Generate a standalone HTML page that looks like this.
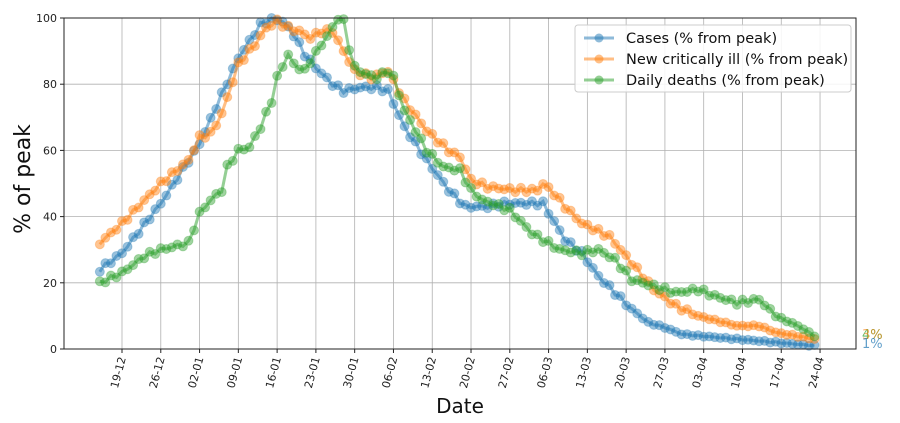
<!DOCTYPE html>
<html><head><meta charset="utf-8"><style>
body{margin:0;background:#fff;}
svg{display:block;font-family:"DejaVu Sans","Liberation Sans",sans-serif;}
</style></head><body>
<svg id="s" width="900" height="423" viewBox="0 0 900 423" xmlns="http://www.w3.org/2000/svg">
<rect width="900" height="423" fill="#fff"/>
<g id="grid" stroke="#b0b0b0" stroke-width="0.8"></g>
<g id="series"></g>
<rect x="64" y="18" width="792" height="331" fill="none" stroke="#222" stroke-width="1"/>
<g id="ticks" font-size="11" fill="#222"></g>
<text x="36" y="185" font-size="22" text-anchor="middle" transform="rotate(-90 30 185)" fill="#111">% of peak</text>
<text x="460" y="413" font-size="20" text-anchor="middle" fill="#111">Date</text>
<text x="862" y="339" font-size="13" fill="#2ca02c" opacity="0.7">4%</text>
<text x="862" y="339" font-size="13" fill="#ff7f0e" opacity="0.6">3%</text>
<text x="862" y="348" font-size="13" fill="#1f77b4" opacity="0.7">1%</text>
<g>
<rect x="575" y="25" width="276" height="67" rx="3" fill="#fff" fill-opacity="0.85" stroke="#ccc"/>
<line x1="584" y1="38" x2="614" y2="38" stroke="#1f77b4" stroke-width="3" opacity="0.5"/><circle cx="599" cy="38" r="4.5" fill="#1f77b4" opacity="0.5"/>
<line x1="584" y1="59" x2="614" y2="59" stroke="#ff7f0e" stroke-width="3" opacity="0.5"/><circle cx="599" cy="59" r="4.5" fill="#ff7f0e" opacity="0.5"/>
<line x1="584" y1="80" x2="614" y2="80" stroke="#2ca02c" stroke-width="3" opacity="0.5"/><circle cx="599" cy="80" r="4.5" fill="#2ca02c" opacity="0.5"/>
<text x="626" y="43" font-size="14.5" fill="#111">Cases (% from peak)</text>
<text x="626" y="64" font-size="14.5" fill="#111">New critically ill (% from peak)</text>
<text x="626" y="85" font-size="14.5" fill="#111">Daily deaths (% from peak)</text>
</g>
</svg>
<script>
var NS="http://www.w3.org/2000/svg";
function el(t,a,p){var e=document.createElementNS(NS,t);for(var k in a)e.setAttribute(k,a[k]);p.appendChild(e);return e;}
var X=function(d){return 122+(d-4)*5.54;}, Y=function(v){return 349-v*3.31;};
var grid=document.getElementById('grid'),ticks=document.getElementById('ticks');
var labs=["19-12","26-12","02-01","09-01","16-01","23-01","30-01","06-02","13-02","20-02","27-02","06-03","13-03","20-03","27-03","03-04","10-04","17-04","24-04"];
labs.forEach(function(l,i){var x=X(4+7*i);el('line',{x1:x,y1:18,x2:x,y2:349},grid);
 el('line',{x1:x,y1:349,x2:x,y2:353,stroke:'#222'},ticks);
 var t=el('text',{x:x+4,y:358,'text-anchor':'end',transform:'rotate(-75 '+(x+4)+' 358)'},ticks);t.textContent=l;});
[0,20,40,60,80,100].forEach(function(v){var y=Y(v);if(v>0&&v<100)el('line',{x1:64,y1:y,x2:856,y2:y},grid);
 el('line',{x1:60,y1:y,x2:64,y2:y,stroke:'#222'},ticks);
 var t=el('text',{x:57,y:y+4,'text-anchor':'end'},ticks);t.textContent=v;});
var S={
"#1f77b4":[[0,24],[4,29],[11,44],[18,62],[25,88],[29,98],[31,100],[33,99],[35,95],[37,89],[39,85],[42,80],[44,78],[47,79],[50,79],[52,78],[55,67],[59,57],[63,48],[66,43],[70,43],[73,44],[77,44],[80,44],[84,33],[87,29],[90,22],[93,17],[96,12],[99,8],[102,6.5],[105,4.5],[108,4],[115,3],[122,2],[129,1]],
"#ff7f0e":[[0,32],[2,35],[4,38],[11,50],[16,57],[18,64],[20,65],[22,71],[25,86],[28,92],[30,97],[32,99],[34,97],[36,96],[38,94],[40,96],[42,96],[44,90],[46,84],[49,82],[52,84],[55,75],[59,66],[63,60],[65,58],[67,51],[70,49],[75,48],[79,48],[80,50],[82,47],[84,43],[87,38],[92,34],[97,24],[100,18],[104,13],[108,10],[115,7],[119,7],[122,5],[129,3]],
"#2ca02c":[[0,20],[4,23],[8,28],[11,30],[16,32],[18,41],[20,45],[22,48],[23,55],[25,60],[27,61],[29,67],[31,75],[32,82],[34,89],[35,86],[37,84],[38,87],[40,92],[42,97],[43,100],[44,99],[45,91],[46,85],[48,83],[50,82],[52,84],[53,82],[55,72],[59,60],[62,55],[65,54],[67,48],[69,45],[74,42],[78,35],[83,30],[87,29],[90,30],[93,27],[96,21],[100,19],[104,17],[108,18],[111,16],[115,14],[119,15],[122,10],[126,7],[129,4]]};
var g=document.getElementById('series'),seed=0;
for(var c in S){var k=S[c],pts=[];seed++;
 for(var d=0;d<=129;d++){var j=0;while(j<k.length-2&&k[j+1][0]<d)j++;
  var a=k[j],b=k[j+1],t=(d-a[0])/(b[0]-a[0]),v=a[1]+(b[1]-a[1])*t;
  v+=Math.sin(d*2.7+seed*5)*0.7*(v>10?1:0.3);pts.push([X(d),Y(Math.min(v,100))]);}
 el('polyline',{points:pts.map(function(p){return p[0].toFixed(1)+','+p[1].toFixed(1)}).join(' '),fill:'none',stroke:c,'stroke-width':3,'stroke-opacity':0.5},g);
 pts.forEach(function(p){el('circle',{cx:p[0],cy:p[1],r:4.5,fill:c,'fill-opacity':0.45,stroke:c,'stroke-opacity':0.3},g);});}
</script>
</body></html>
